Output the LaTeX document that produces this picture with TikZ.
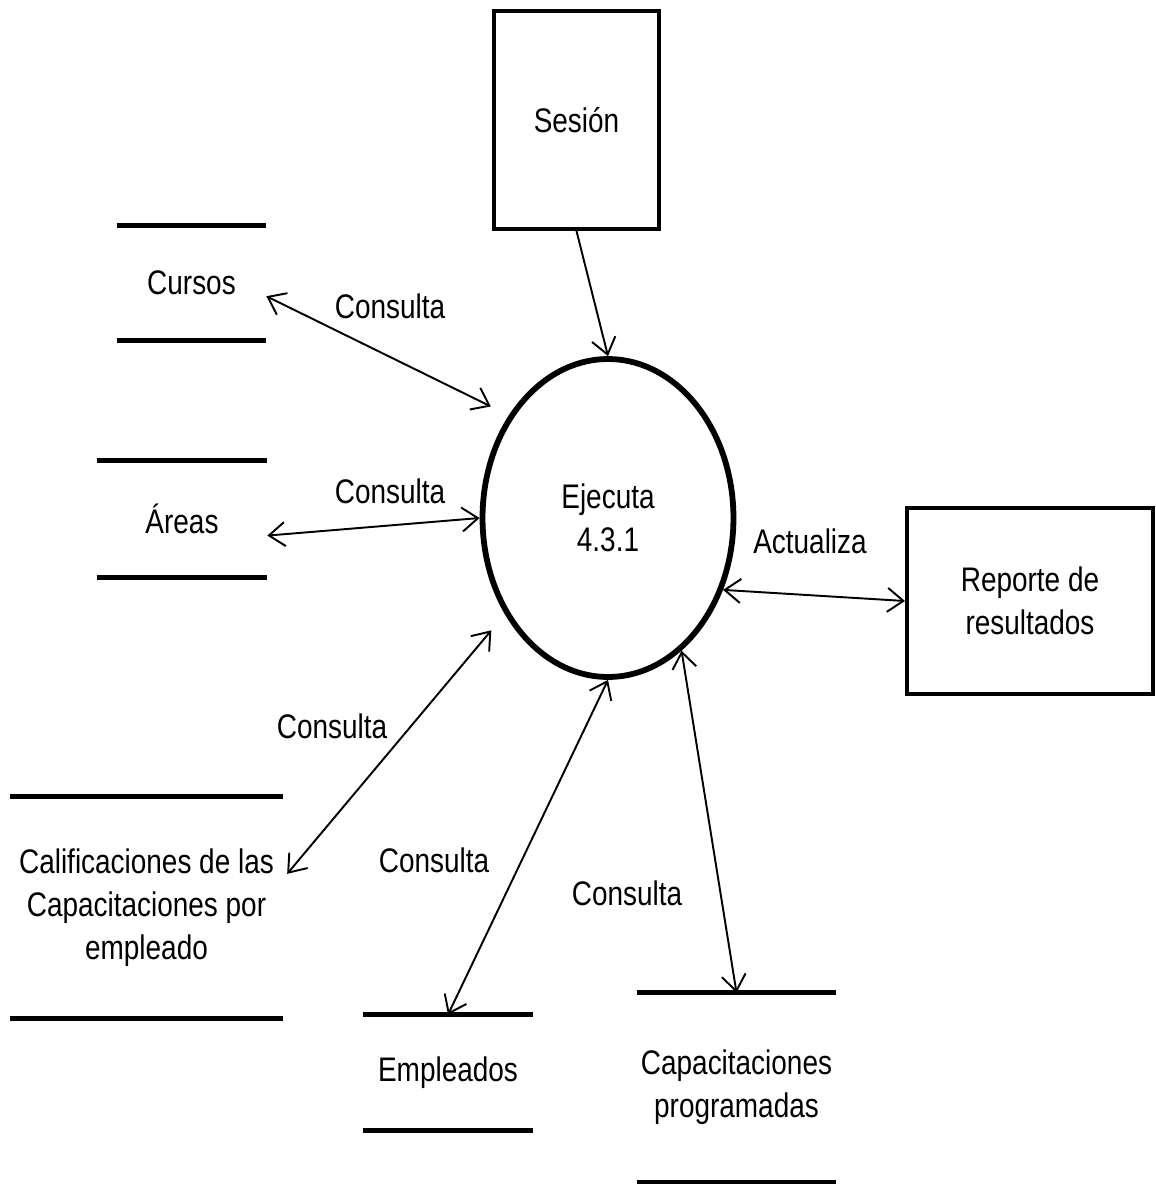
\documentclass[tikz,border=0pt]{standalone}
\usepackage{fontspec}
\setmainfont{Liberation Sans}[FakeStretch=0.82]
\usetikzlibrary{shapes.geometric,arrows.meta,positioning}
\tikzset{
  caja/.style={draw, line width=2.3pt, inner sep=0pt, align=center},
  proceso/.style={draw, ellipse, line width=3.3pt, minimum width=5.02cm, minimum height=6.36cm, inner sep=0pt, align=center},
  almacen/.style={inner sep=0pt, align=center},
  linea/.style={line width=2.8pt},
  punta/.tip={Straight Barb[length=3.2mm,width=4.8mm]},
  flujo/.style={line width=1.1pt, arrows={punta-punta}},
  etiq/.style={inner sep=0pt}
}

\begin{document}
\begin{tikzpicture}[x=0.02cm, y=-0.02cm, font=\fontsize{19.4}{24.5}\selectfont]
        \useasboundingbox (0,0) rectangle (1156,1184);
        % entidades y proceso
        \node[caja, minimum width=3.3cm, minimum height=4.36cm] (ses) at (576.5,120) {Sesión};
        \node[proceso] (proc) at (608,518) {Ejecuta\\4.3.1};
        \node[caja, minimum width=4.92cm, minimum height=3.72cm] (rep) at (1030,601) {Reporte de\\resultados};
        % almacenes
        \node[almacen, minimum width=2.98cm, minimum height=2.28cm] (cursos) at (191.5,283) {Cursos};
        \node[almacen, minimum width=3.4cm, minimum height=2.32cm] (areas) at (182,519) {Áreas};
        \node[almacen, minimum width=5.46cm, minimum height=4.42cm] (calif) at (146.5,907.5) {Calificaciones de las\\Capacitaciones por\\empleado};
        \node[almacen, minimum width=3.4cm, minimum height=2.3cm] (empl) at (448,1072.5) {Empleados};
        \node[almacen, minimum width=3.98cm, minimum height=3.78cm] (capac) at (736.5,1087.5) {Capacitaciones\\programadas};
        \foreach \a in {cursos,areas,calif,empl,capac}{
          \draw[linea] (\a.north west) -- (\a.north east);
          \draw[linea] (\a.south west) -- (\a.south east);
        }
        % flujos
        \draw[line width=1.1pt, -punta] (ses.south) -- (proc.north);
        \draw[flujo, shorten >=0.4cm] (cursos.-10) -- (proc.134);
        \draw[flujo] (areas.-11) -- (proc.180);
        \draw[flujo, shorten <=0.12cm, shorten >=0.42cm] (calif.12) -- (proc.223);
        \draw[flujo] (empl.north) -- (proc.south);
        \draw[flujo] (capac.north) -- (proc.-61);
        \draw[flujo] (proc.-32) -- (rep.west);
        % etiquetas
        \node[etiq] (lcur) at (390,306) {Consulta};
        \node[etiq] (lare) at (390,491) {Consulta};
        \node[etiq] (lcal) at (332,726) {Consulta};
        \node[etiq] (lemp) at (434,860) {Consulta};
        \node[etiq] (lcap) at (627,893) {Consulta};
        \node[etiq] (lact) at (810,541) {Actualiza};
      \end{tikzpicture}
\end{document}
